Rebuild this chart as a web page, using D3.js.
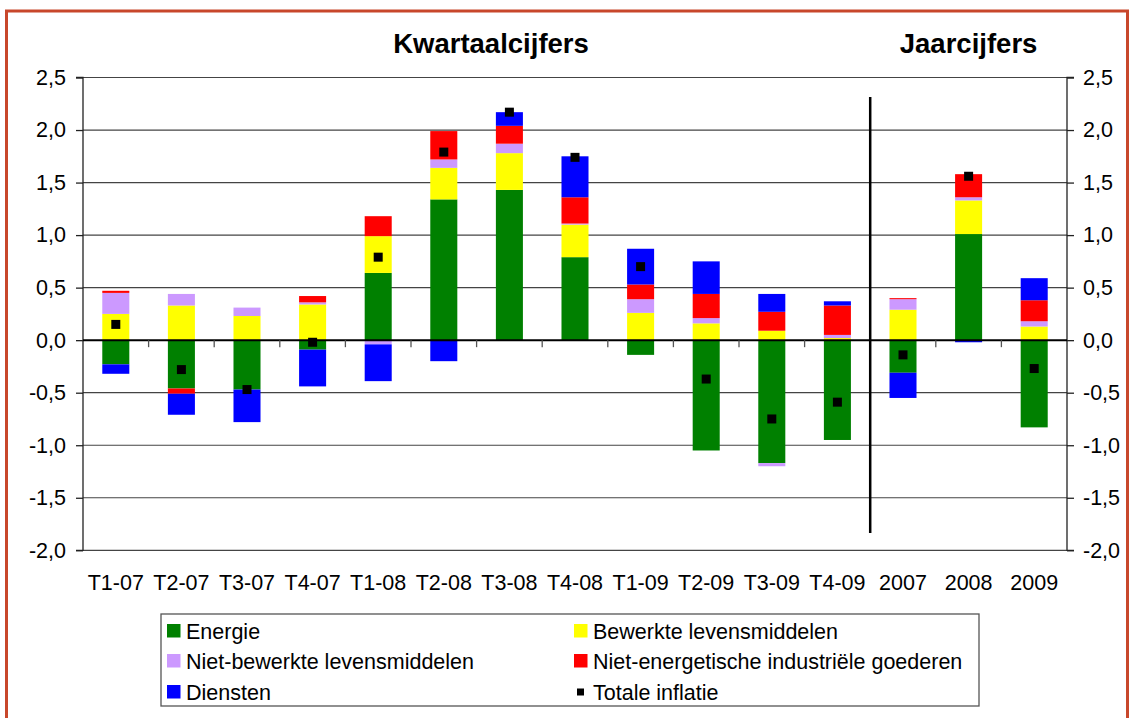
<!DOCTYPE html>
<html>
<head>
<meta charset="utf-8">
<script src="https://cdn.jsdelivr.net/npm/d3@7"></script>
<style>
  html, body { margin: 0; padding: 0; background: #fff; }
  svg { display: block; font-family: "Liberation Sans", Arial, sans-serif; }
</style>
</head>
<body>
<svg id="chart" width="1132" height="718"></svg>
<script>
const categories = ["T1-07","T2-07","T3-07","T4-07","T1-08","T2-08","T3-08","T4-08","T1-09","T2-09","T3-09","T4-09","2007","2008","2009"];
const energie      = [-0.23,-0.46,-0.47,-0.09, 0.64, 1.34, 1.43, 0.79,-0.14,-1.05,-1.17,-0.95,-0.31, 1.01,-0.83];
const bewerkte     = [ 0.25, 0.33, 0.23, 0.34, 0.35, 0.30, 0.35, 0.31, 0.26, 0.16, 0.09, 0.02, 0.29, 0.32, 0.13];
const nietBewerkte = [ 0.20, 0.11, 0.08, 0.02,-0.04, 0.08, 0.09, 0.01, 0.13, 0.05,-0.03, 0.03, 0.10, 0.03, 0.05];
const nietEnerg    = [ 0.02,-0.05, 0.00, 0.06, 0.19, 0.27, 0.17, 0.25, 0.14, 0.23, 0.18, 0.28, 0.01, 0.22, 0.20];
const diensten     = [-0.09,-0.20,-0.31,-0.35,-0.35,-0.20, 0.13, 0.39, 0.34, 0.31, 0.17, 0.04,-0.24,-0.02, 0.21];
const totaal       = [ 0.15,-0.28,-0.47,-0.02, 0.79, 1.79, 2.17, 1.74, 0.70,-0.37,-0.75,-0.59,-0.14, 1.56,-0.27];
const yTicks = [-2.0,-1.5,-1.0,-0.5,0.0,0.5,1.0,1.5,2.0,2.5];
const seriesNames = ["Energie","Bewerkte levensmiddelen","Niet-bewerkte levensmiddelen","Niet-energetische industriële goederen","Diensten"];
const totalName = "Totale inflatie";
const titleQuarter = "Kwartaalcijfers";
const titleYear = "Jaarcijfers";
const nQuarters = 12;

(function () {
const colors = ["#008000","#ffff00","#cc99ff","#ff0000","#0000ff"];
const seriesValues = [energie, bewerkte, nietBewerkte, nietEnerg, diensten];

const rows = categories.map((c, i) => {
  const r = {cat: c};
  seriesNames.forEach((s, k) => r[s] = seriesValues[k][i]);
  return r;
});

const svg = d3.select("#chart");
const pLeft = 83, pRight = 1067, pTop = 77.5, pBottom = 550.3;

const x = d3.scaleBand().domain(categories).range([pLeft, pRight]).paddingInner(0.588).paddingOuter(0.294);
const y = d3.scaleLinear().domain([-2, 2.5]).range([pBottom, pTop]);
const loc = d3.formatLocale({decimal: ",", thousands: ".", grouping: [3], currency: ["€",""], minus: "-"});
const fmt = loc.format(".1f");
const step = x.step();
const gap = (step - x.bandwidth()) / 2;

// outer border
svg.append("rect").attr("x", 6.5).attr("y", 11).attr("width", 1121).attr("height", 730)
  .attr("fill", "none").attr("stroke", "#c8472b").attr("stroke-width", 3);

// gridlines
svg.append("g").selectAll("line").data(yTicks.filter(d => d !== 0)).join("line")
  .attr("x1", pLeft).attr("x2", pRight).attr("y1", d => y(d)).attr("y2", d => y(d))
  .attr("stroke", "#444").attr("stroke-width", 1.2);

// left axis
const gl = svg.append("g").attr("transform", `translate(${pLeft},0)`)
  .call(d3.axisLeft(y).tickValues(yTicks).tickFormat(fmt).tickSize(7).tickPadding(10));
gl.selectAll("path,line").attr("stroke", "#222").attr("stroke-width", 1.3);
gl.selectAll("text").attr("font-size", "21.5px").attr("fill", "#000").attr("font-family", "Liberation Sans, Arial, sans-serif");

// right axis
const gr = svg.append("g").attr("transform", `translate(${pRight},0)`)
  .call(d3.axisRight(y).tickValues(yTicks).tickFormat(fmt).tickSize(7).tickPadding(9));
gr.selectAll("path,line").attr("stroke", "#222").attr("stroke-width", 1.3);
gr.selectAll("text").attr("font-size", "21.5px").attr("fill", "#000").attr("font-family", "Liberation Sans, Arial, sans-serif");
gl.select(".domain").attr("d", `M-7,${pTop}H0V${pBottom}H-7`);
gr.select(".domain").attr("d", `M7,${pTop}H0V${pBottom}H7`);

// stacked bars
const stack = d3.stack().keys(seriesNames).offset(d3.stackOffsetDiverging);
const layers = stack(rows);
svg.append("g").selectAll("g").data(layers).join("g")
  .attr("fill", (d, i) => colors[i])
  .selectAll("rect").data(d => d).join("rect")
  .attr("x", d => x(d.data.cat))
  .attr("width", x.bandwidth())
  .attr("y", d => y(Math.max(d[0], d[1])))
  .attr("height", d => Math.abs(y(d[0]) - y(d[1])));

// zero axis line with category ticks
svg.append("line").attr("x1", pLeft).attr("x2", pRight).attr("y1", y(0)).attr("y2", y(0))
  .attr("stroke", "#000").attr("stroke-width", 2);
svg.append("g").selectAll("line").data(categories.slice(1)).join("line")
  .attr("x1", d => x(d) - gap).attr("x2", d => x(d) - gap)
  .attr("y1", y(0)).attr("y2", y(0) + 7)
  .attr("stroke", "#555").attr("stroke-width", 1.3);

// x labels
svg.append("g").selectAll("text").data(categories).join("text")
  .attr("x", d => x(d) + x.bandwidth() / 2).attr("y", 590)
  .attr("text-anchor", "middle").attr("font-size", "21.5px").text(d => d);

// separator line between quarterly and annual
const sepX = x(categories[nQuarters]) - gap;
svg.append("line").attr("x1", sepX).attr("x2", sepX).attr("y1", 97).attr("y2", 533)
  .attr("stroke", "#000").attr("stroke-width", 2.5);

// total markers
svg.append("g").selectAll("rect").data(categories).join("rect")
  .attr("x", (d) => x(d) + x.bandwidth() / 2 - 4.5)
  .attr("y", (d, i) => y(totaal[i]) - 4.5)
  .attr("width", 9).attr("height", 9).attr("fill", "#000");

// titles
const yMid = (x(categories[nQuarters]) + x(categories[categories.length - 1]) + x.bandwidth()) / 2;
svg.append("text").attr("x", 491).attr("y", 53).attr("text-anchor", "middle")
  .attr("font-size", "27.5px").attr("font-weight", "bold").text(titleQuarter);
svg.append("text").attr("x", yMid).attr("y", 53).attr("text-anchor", "middle")
  .attr("font-size", "27.5px").attr("font-weight", "bold").text(titleYear);

// legend
const lg = svg.append("g");
lg.append("rect").attr("x", 161).attr("y", 614).attr("width", 818).attr("height", 92)
  .attr("fill", "#fff").attr("stroke", "#555").attr("stroke-width", 1.3);
const legendItems = seriesNames.map((s, i) => ({name: s, color: colors[i], type: "bar"}))
  .concat([{name: totalName, color: "#000", type: "marker"}]);
const colX = [167, 574], rowY = [631, 661, 692];
legendItems.forEach((it, i) => {
  const cx = colX[i % 2], cy = rowY[Math.floor(i / 2)];
  if (it.type === "bar") {
    lg.append("rect").attr("x", cx).attr("y", cy - 7).attr("width", 13.5).attr("height", 13.5).attr("fill", it.color);
  } else {
    lg.append("rect").attr("x", cx + 3).attr("y", cy - 3.5).attr("width", 7).attr("height", 7).attr("fill", it.color);
  }
  lg.append("text").attr("x", cx + 19).attr("y", cy + 7.5).attr("font-size", "21.5px").text(it.name);
});
})();
</script>
</body>
</html>
